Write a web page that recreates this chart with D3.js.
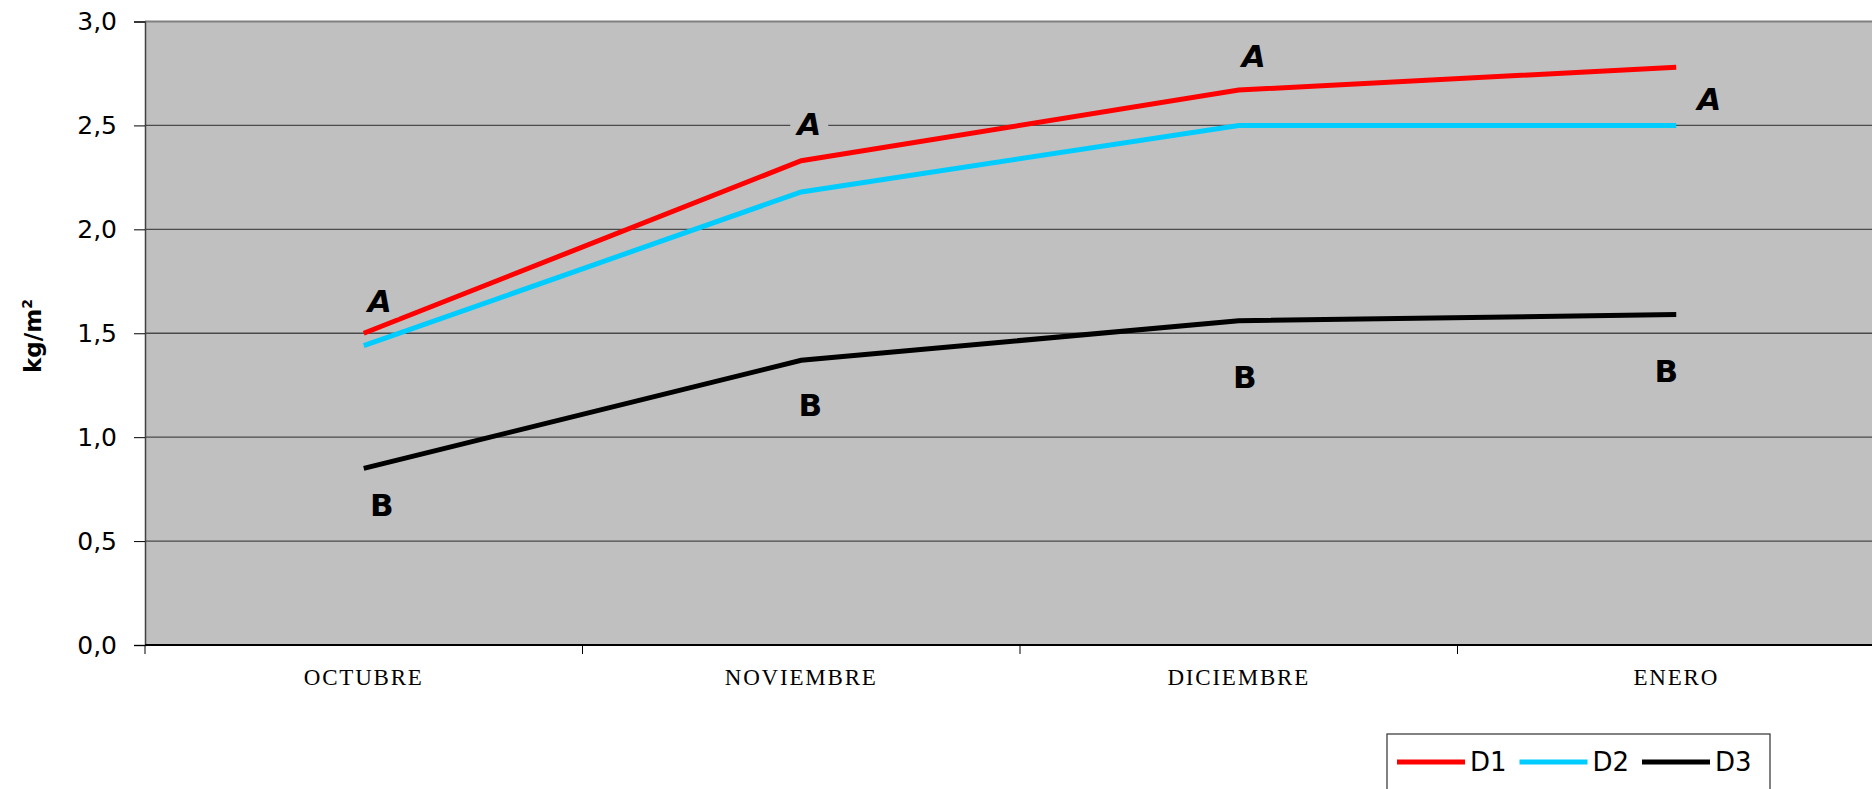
<!DOCTYPE html>
<html>
<head>
<meta charset="utf-8">
<script src="https://cdn.jsdelivr.net/npm/d3@7"></script>
<style>
    body { margin: 0; background: #fff; }
</style>
</head>
<body>
<div id="chart-area"></div>
<script>
// Data
var months = ["OCTUBRE", "NOVIEMBRE", "DICIEMBRE", "ENERO"];
var d1 = [1.50, 2.33, 2.67, 2.78];
var d2 = [1.44, 2.18, 2.50, 2.50];
var d3v = [0.85, 1.37, 1.56, 1.59];
var lettersTop = ["A", "A", "A", "A"];
var lettersBottom = ["B", "B", "B", "B"];
var yTicks = [0, 0.5, 1, 1.5, 2, 2.5, 3];
var seriesNames = ["D1", "D2", "D3"];

var series = [
    { name: seriesNames[0], values: d1, color: "#ff0000" },
    { name: seriesNames[1], values: d2, color: "#00ccff" },
    { name: seriesNames[2], values: d3v, color: "#000000" }
];

// label offsets (px) from the D1 / D3 points
var topOffsets = [[16, -32], [8, -37], [15, -34], [33, 32]];
var bottomOffsets = [[18, 37], [9, 45], [6, 56], [-10, 56]];

var W = 1872, H = 789;
var margin = { left: 145, top: 21.5, bottom: 144 };
var plotBottom = H - margin.bottom;

var svg = d3.select("#chart-area")
    .append("svg")
    .attr("width", W)
    .attr("height", H);

// Scales
var x = d3.scaleBand().domain(months).range([margin.left, margin.left + 4 * 437.5]);
var y = d3.scaleLinear().domain([0, 3]).range([plotBottom, margin.top]);
var cx = function(m) { return x(m) + x.bandwidth() / 2; };

// Plot background
svg.append("rect")
    .attr("x", margin.left)
    .attr("y", y(3))
    .attr("width", W - margin.left)
    .attr("height", y(0) - y(3))
    .attr("fill", "#c0c0c0");

// Gridlines
svg.append("g")
    .selectAll("line")
    .data(yTicks.filter(function(d) { return d > 0 && d < 3; }))
    .enter().append("line")
    .attr("x1", margin.left)
    .attr("x2", W)
    .attr("y1", function(d) { return y(d); })
    .attr("y2", function(d) { return y(d); })
    .attr("stroke", "#4a4a4a")
    .attr("stroke-width", 1.3);

svg.append("line")
    .attr("x1", margin.left).attr("x2", W)
    .attr("y1", y(3)).attr("y2", y(3))
    .attr("stroke", "#808080")
    .attr("stroke-width", 2);

// Y-axis
var yAxisCall = d3.axisLeft(y)
    .tickValues(yTicks)
    .tickSize(11)
    .tickPadding(17)
    .tickFormat(function(d) { return d3.format(".1f")(d).replace(".", ","); });
var yAxis = svg.append("g")
    .attr("class", "y axis")
    .attr("transform", "translate(" + margin.left + ",0)")
    .call(yAxisCall);
yAxis.select(".domain").attr("stroke", "#404040").attr("stroke-width", 1.5);
yAxis.selectAll(".tick line").attr("stroke", "#000");
yAxis.selectAll("text")
    .attr("font-family", "DejaVu Sans, Verdana, sans-serif")
    .attr("font-size", "25px")
    .attr("fill", "#000");

// X-axis
svg.append("line")
    .attr("x1", margin.left).attr("x2", W)
    .attr("y1", y(0)).attr("y2", y(0))
    .attr("stroke", "#000")
    .attr("stroke-width", 2);

svg.append("g")
    .selectAll("line")
    .data(months)
    .enter().append("line")
    .attr("x1", function(d) { return x(d); })
    .attr("x2", function(d) { return x(d); })
    .attr("y1", y(0))
    .attr("y2", y(0) + 9)
    .attr("stroke", "#000")
    .attr("stroke-width", 1);

svg.append("g")
    .selectAll("text")
    .data(months)
    .enter().append("text")
    .attr("x", function(d) { return cx(d); })
    .attr("y", y(0) + 40)
    .attr("text-anchor", "middle")
    .attr("font-family", "Liberation Serif, Times New Roman, serif")
    .attr("font-size", "23px")
    .attr("letter-spacing", "1.8px")
    .text(function(d) { return d; });

// Y label
var yLabel = svg.append("text")
    .attr("transform", "translate(41," + 336 + ") rotate(-90)")
    .attr("text-anchor", "middle")
    .attr("font-family", "DejaVu Sans, Verdana, sans-serif")
    .attr("font-weight", "bold")
    .attr("font-size", "23px");
yLabel.append("tspan").text("kg/m");
yLabel.append("tspan").attr("font-size", "14px").attr("dy", "-9").text("2");

// Lines
var line = d3.line()
    .x(function(d, i) { return cx(months[i]); })
    .y(function(d) { return y(d); });

svg.append("g")
    .selectAll("path")
    .data(series)
    .enter().append("path")
    .attr("d", function(s) { return line(s.values); })
    .attr("fill", "none")
    .attr("stroke", function(s) { return s.color; })
    .attr("stroke-width", 5);

// Letters (text boxes with plot-coloured background)
var letterFont = "Comic Sans MS, DejaVu Sans, sans-serif";
function drawLetters(letters, vals, offsets, italic) {
    var g = svg.append("g")
        .selectAll("g")
        .data(letters)
        .enter().append("g")
        .attr("transform", function(d, i) {
            return "translate(" + (cx(months[i]) + offsets[i][0]) + "," + (y(vals[i]) + offsets[i][1]) + ")";
        });
    g.append("rect")
        .attr("x", -19).attr("y", -16)
        .attr("width", 38).attr("height", 32)
        .attr("fill", "#c0c0c0");
    g.append("text")
        .attr("text-anchor", "middle")
        .attr("dominant-baseline", "central")
        .attr("font-family", letterFont)
        .attr("font-weight", "bold")
        .attr("font-style", italic ? "italic" : "normal")
        .attr("font-size", "31px")
        .text(function(d) { return d; });
}
drawLetters(lettersTop, d1, topOffsets, true);
drawLetters(lettersBottom, d3v, bottomOffsets, false);

// Legend
var legend = svg.append("g").attr("transform", "translate(1387,734)");
legend.append("rect")
    .attr("x", 0).attr("y", 0)
    .attr("width", 383).attr("height", 80)
    .attr("fill", "#fff")
    .attr("stroke", "#404040")
    .attr("stroke-width", 1.3);
var item = legend.selectAll(".item")
    .data(series)
    .enter().append("g")
    .attr("transform", function(d, i) { return "translate(" + (10 + i * 122.5) + ",28)"; });
item.append("line")
    .attr("x1", 0).attr("x2", 68)
    .attr("stroke", function(d) { return d.color; })
    .attr("stroke-width", 5);
item.append("text")
    .attr("x", 73)
    .attr("dominant-baseline", "central")
    .attr("font-family", letterFont)
    .attr("font-size", "26px")
    .text(function(d) { return d.name; });
</script>
</body>
</html>
